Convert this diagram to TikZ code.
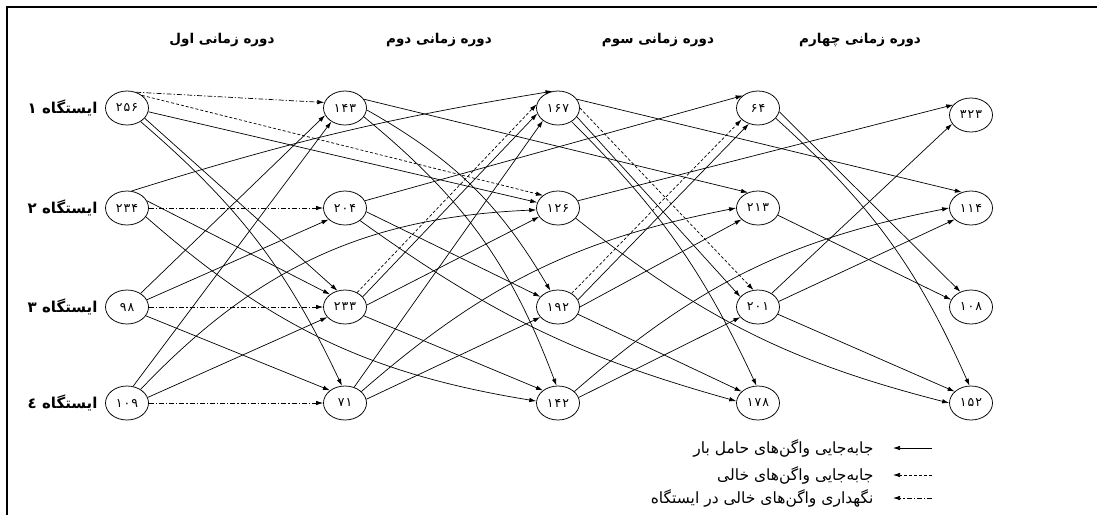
\documentclass[tikz,border=0pt]{standalone}
\usepackage{fontspec}
\usetikzlibrary{shapes.geometric,arrows.meta}
\newfontfamily\arabicfont[Script=Arabic]{DejaVu Sans}
\newfontfamily\numfont[Script=Arabic,LetterSpace=8]{DejaVu Sans}
\TeXXeTstate=1
\begin{document}
\begin{tikzpicture}[x=1pt,y=-1pt,
  st/.style={ellipse,draw,line width=0.75pt,minimum width=43pt,minimum height=34pt,inner sep=0pt,font=\numfont\fontsize{12.5}{13}\selectfont},
  mv/.style={line width=0.7pt,-{Latex[length=7pt,width=4.5pt]}},
  emp/.style={mv,dash pattern=on 3pt off 2pt},
  hold/.style={mv,dash pattern=on 5pt off 2pt on 1.2pt off 2pt},
  hdr/.style={font=\arabicfont\bfseries\fontsize{13.5}{15}\selectfont},
  lbl/.style={font=\arabicfont\bfseries\fontsize{15}{16}\selectfont,anchor=east},
  leg/.style={font=\arabicfont\fontsize{15.5}{16}\selectfont,anchor=east}
]
\useasboundingbox (0,0) rectangle (1097,515);
\draw[line width=1.8pt] (7,515) -- (7,7) -- (1097,7);

% headers
\node[hdr] (h1) at (222,40) {\beginR دوره زمانی اول\endR};
\node[hdr] (h2) at (439,40) {\beginR دوره زمانی دوم\endR};
\node[hdr] (h3) at (658,40) {\beginR دوره زمانی سوم\endR};
\node[hdr] (h4) at (860,40) {\beginR دوره زمانی چهارم\endR};

% station labels
\node[lbl] (s1) at (101,108) {\beginR ایستگاه ۱\endR};
\node[lbl] (s2) at (101,208) {\beginR ایستگاه ۲\endR};
\node[lbl] (s3) at (101,307) {\beginR ایستگاه ۳\endR};
\node[lbl] (s4) at (101,403) {\beginR ایستگاه ٤\endR};

% nodes
\node[st] (a1) at (127,108) {۲۵۶};
\node[st] (a2) at (127,208) {۲۳۴};
\node[st] (a3) at (127,307) {۹۸};
\node[st] (a4) at (127,403) {۱۰۹};
\node[st] (b1) at (345,108) {۱۴۳};
\node[st] (b2) at (345,208) {۲۰۴};
\node[st] (b3) at (345,307) {۲۳۳};
\node[st] (b4) at (345,403) {۷۱};
\node[st] (c1) at (558,108) {۱۶۷};
\node[st] (c2) at (558,208) {۱۲۶};
\node[st] (c3) at (558,307) {۱۹۲};
\node[st] (c4) at (558,403) {۱۴۲};
\node[st] (d1) at (758,108) {۶۴};
\node[st] (d2) at (758,208) {۲۱۳};
\node[st] (d3) at (758,307) {۲۰۱};
\node[st] (d4) at (758,403) {۱۷۸};
\node[st] (e1) at (971,115) {۳۲۳};
\node[st] (e2) at (971,208) {۱۱۴};
\node[st] (e3) at (971,307) {۱۰۸};
\node[st] (e4) at (971,403) {۱۵۲};

% holding
\draw[hold] (a1.60) -- (b1.165);
\draw[hold] (a2) -- (b2);
\draw[hold] (a3) -- (b3);
\draw[hold] (a4) -- (b4);

% empty moves
\draw[emp] (a1.40) -- (c2.140);
\draw[emp] (b3.50) -- (c1.170);
\draw[emp] (c3.45) -- (d1.215);
\draw[emp] (c1.0) -- (d3.105);

% loaded moves
\draw[mv] (a1.-10) -- (c2.165);
\draw[mv] (a1.-30) -- (b3.115);
\draw[mv] (a1.-45) to[bend left=12] (b4.100);
\draw[mv] (a2.75) to[bend left=4] (c1.108);
\draw[mv] (a2.20) -- (b3.140);
\draw[mv] (a2.-25) to[bend right=16] (c4.175);
\draw[mv] (a3.45) -- (b1.200);
\draw[mv] (a3.20) -- (b2.215);
\draw[mv] (a3.-25) -- (b4.140);
\draw[mv] (a4.70) -- (b1.225);
\draw[mv] (a4.45) to[bend left=22] (c2.185);
\draw[mv] (a4.15) -- (b3.210);

\draw[mv] (b1.25) -- (d2.123);
\draw[mv] (b1.-5) to[bend left=15] (c3.115);
\draw[mv] (b1.-25) to[bend left=15] (c4.95);
\draw[mv] (b2.20) -- (d1.141);
\draw[mv] (b2.-10) -- (c3.150);
\draw[mv] (b2.-40) to[bend right=10] (d4.175);
\draw[mv] (b3.30) -- (c1.195);
\draw[mv] (b3.5) -- (c2.205);
\draw[mv] (b3.-25) -- (c4.140);
\draw[mv] (b4.60) -- (c1.220);
\draw[mv] (b4.35) to[bend left=15] (d2.180);
\draw[mv] (b4.10) -- (c3.210);

\draw[mv] (c1.25) -- (e2.120);
\draw[mv] (c1.-25) -- (d3.150);
\draw[mv] (c1.-45) to[bend left=10] (d4.95);
\draw[mv] (c2.20) -- (e1.150);
\draw[mv] (c2.-30) to[bend right=12] (e4.180);
\draw[mv] (c3.20) -- (d1.240);
\draw[mv] (c3.0) -- (d2.215);
\draw[mv] (c3.-20) -- (d4.145);
\draw[mv] (c4.35) to[bend left=15] (e2.180);
\draw[mv] (c4.15) -- (d3.210);

\draw[mv] (d1.-10) -- (e3.125);
\draw[mv] (d1.-30) to[bend left=12] (e4.95);
\draw[mv] (d2.-20) -- (e3.160);
\draw[mv] (d3.45) -- (e1.205);
\draw[mv] (d3.15) -- (e2.215);
\draw[mv] (d3.-20) -- (e4.145);

% legend
\coordinate (l1a) at (932,448); \coordinate (l1b) at (893,448);
\coordinate (l2a) at (932,475); \coordinate (l2b) at (893,475);
\coordinate (l3a) at (932,498); \coordinate (l3b) at (893,498);
\draw[mv] (l1a) -- (l1b);
\draw[emp] (l2a) -- (l2b);
\draw[hold] (l3a) -- (l3b);
\node[leg] (t1) at (877,448) {\beginR جابه‌جایی واگن‌های حامل بار\endR};
\node[leg] (t2) at (877,475) {\beginR جابه‌جایی واگن‌های خالی\endR};
\node[leg] (t3) at (877,498) {\beginR نگهداری واگن‌های خالی در ایستگاه\endR};
\end{tikzpicture}
\end{document}
